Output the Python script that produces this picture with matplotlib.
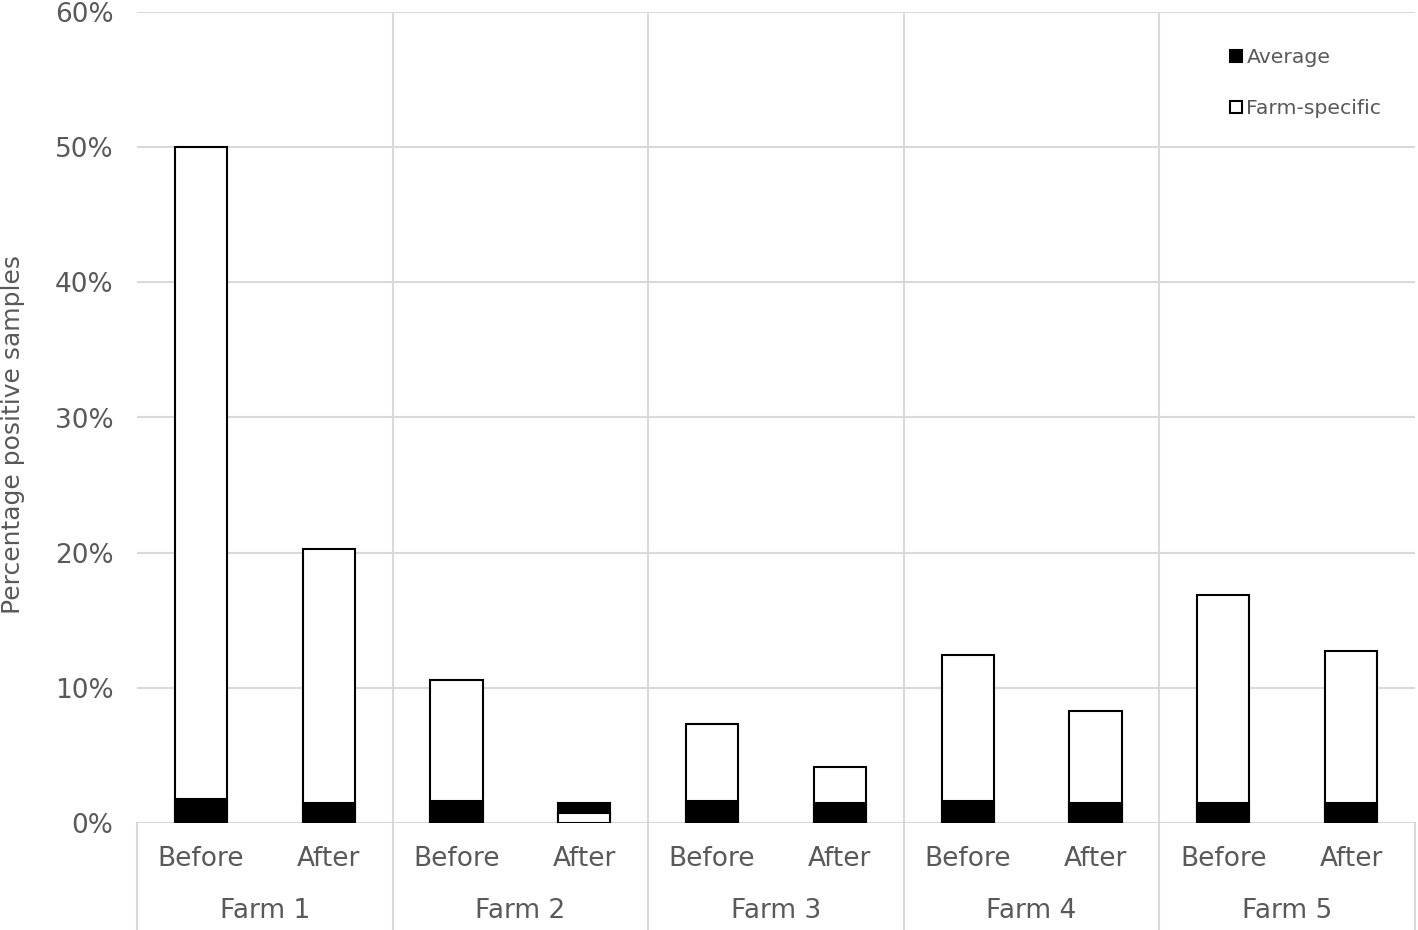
import matplotlib.pyplot as plt
import matplotlib.transforms as transforms
from matplotlib.lines import Line2D
import numpy as np

farms = ['Farm 1', 'Farm 2', 'Farm 3', 'Farm 4', 'Farm 5']
periods = ['Before', 'After']
farm_specific = [50.0, 20.3, 10.6, 0.74, 7.3, 4.15, 12.45, 8.3, 16.9, 12.75]
average = [1.8, 1.5, 1.65, 1.5, 1.65, 1.5, 1.65, 1.5, 1.5, 1.5]

grey = '#595959'
grid_c = '#d9d9d9'

fig = plt.figure(figsize=(14.18, 9.30), dpi=100)
ax = fig.add_axes([137 / 1418, 107 / 930, 1278 / 1418, 811 / 930])

x = np.arange(len(farm_specific))
w = 0.41
for i in x:
    fs = farm_specific[i] / 100
    av = average[i] / 100
    # taller bar behind, shorter bar in front
    pairs = sorted([(fs, 'white'), (av, 'black')], key=lambda p: -p[0])
    for z, (h, c) in enumerate(pairs):
        ax.bar(i, h, width=w, color=c, edgecolor='black', linewidth=1.5, zorder=3 + z)

ax.set_xlim(-0.5, 9.5)
ax.set_ylim(0, 0.6)
ax.set_yticks(np.arange(0, 0.61, 0.1))
ax.set_yticklabels([f'{int(round(v * 100))}%' for v in np.arange(0, 0.61, 0.1)])
ax.tick_params(axis='y', length=0, pad=17, labelsize=19, labelcolor=grey)
ax.set_xticks([])
ax.grid(axis='y', color=grid_c, linewidth=1.5, zorder=0)
for sx in [1.5, 3.5, 5.5, 7.5]:
    ax.axvline(sx, color=grid_c, linewidth=1.5, zorder=0)
for s in ax.spines.values():
    s.set_visible(False)
ax.axhline(0, color=grid_c, linewidth=2, zorder=2)

fig.text(13 / 1418, 1 - 435 / 930, 'Percentage positive samples', rotation=90,
         ha='center', va='center', fontsize=18, color=grey)

# category labels below the axis
trans = transforms.blended_transform_factory(ax.transData, fig.transFigure)
for i in x:
    ax.text(i, 1 - 859 / 930, periods[i % 2], transform=trans, ha='center', va='center',
            fontsize=19, color=grey)
for j, f in enumerate(farms):
    ax.text(2 * j + 0.5, 1 - 911 / 930, f, transform=trans, ha='center', va='center',
            fontsize=19, color=grey)
for sx in [-0.5, 1.5, 3.5, 5.5, 7.5, 9.5]:
    ax.add_line(Line2D([sx, sx], [0, 107 / 930], transform=trans, color=grid_c,
                       linewidth=1.5, clip_on=False))

handles = [
    Line2D([], [], marker='s', linestyle='none', markersize=9, markerfacecolor='black',
           markeredgecolor='black', markeredgewidth=1.5, label='Average'),
    Line2D([], [], marker='s', linestyle='none', markersize=9, markerfacecolor='white',
           markeredgecolor='black', markeredgewidth=1.5, label='Farm-specific'),
]
leg = fig.legend(handles=handles, loc='upper left', bbox_to_anchor=(1222 / 1418, 1 - 40 / 930),
                 frameon=False, fontsize=14.7, handlelength=0.6, handletextpad=0.2,
                 labelspacing=1.55, borderaxespad=0)
for t in leg.get_texts():
    t.set_color(grey)

fig.savefig('out.png', dpi=100)
